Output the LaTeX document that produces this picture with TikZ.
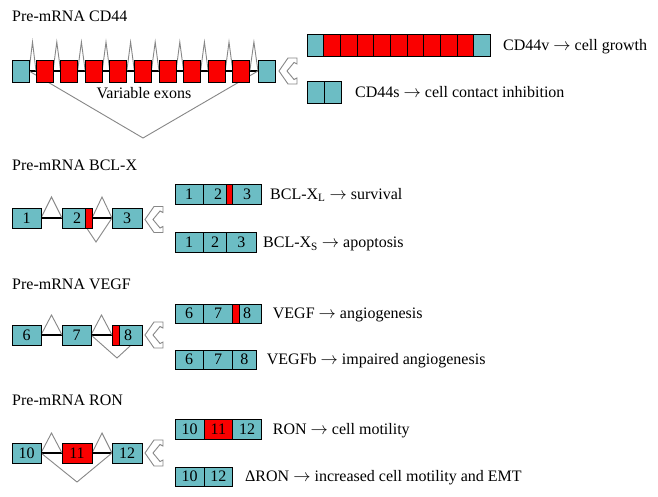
\documentclass[tikz,border=0pt]{standalone}
\usepackage{fontspec}
\setmainfont{Liberation Serif}
\usetikzlibrary{calc}
\pgfdeclarelayer{bg}
\pgfsetlayers{bg,main}
\definecolor{exteal}{RGB}{108,189,196}
\definecolor{exred}{RGB}{250,0,0}
\definecolor{spgray}{RGB}{135,135,135}
\newcommand{\fs}{\fontsize{16}{19}\selectfont}
\tikzset{
  seg/.style={draw=black, line width=0.9pt, fill=exteal, inner sep=0pt, outer sep=0pt, anchor=north west, font=\fs},
  vseg/.style={seg, fill=exred},
  intron/.style={draw=black, line width=1.1pt},
  splice/.style={draw=spgray, line width=0.9pt, line join=miter},
  lbl/.style={font=\fs, inner sep=0pt, anchor=base west},
  chevline/.style={draw=spgray, line width=0.9pt, fill=white, line join=miter},
  chev/.pic={\draw[chevline] (0,0) -- (9,-13) -- (18,-13) -- (18,-7) -- (15,-8.5) -- (8,0) -- (15,8.5) -- (18,7) -- (18,13) -- (9,13) -- cycle;}
}
\begin{document}
\begin{tikzpicture}[x=1pt,y=-1pt]
\useasboundingbox (0,0) rectangle (658,497);
% ---------------- CD44
\node[lbl] (tcd) at (12,22) {Pre-mRNA CD44};
\node[seg, minimum width=17pt, minimum height=22pt] (c0) at (12,60) {};
\foreach \i in {1,...,9} \node[vseg, minimum width=17pt, minimum height=22pt] (c\i) at ({36+(\i-1)*24.6},60) {};
\node[seg, minimum width=17pt, minimum height=22pt] (c10) at (258,60) {};
\coordinate (cV) at (143,138);
\node[font=\fs, inner sep=0pt, anchor=base] (ve) at (144,99) {Variable exons};
\pic at (279,71) {chev};
\node[seg, minimum width=16.67pt, minimum height=22pt] (v0) at (307,34) {};
\foreach \i in {1,...,9} \node[vseg, minimum width=16.67pt, minimum height=22pt] (v\i) at ({307+\i*16.67},34) {};
\node[seg, minimum width=16.67pt, minimum height=22pt] (v10) at (473.7,34) {};
\node[lbl] (tv) at (503,50.3) {CD44v $\rightarrow$ cell growth};
\node[seg, minimum width=17pt, minimum height=22pt] (s0) at (307,81) {};
\node[seg, minimum width=17pt, minimum height=22pt] (s1) at (324,81) {};
\node[lbl] (ts) at (355,97.3) {CD44s $\rightarrow$ cell contact inhibition};
% ---------------- BCL-X
\node[lbl] (tb) at (12,171) {Pre-mRNA BCL-X};
\node[seg, minimum width=29pt, minimum height=20pt] (b1) at (12,208) {1};
\node[seg, minimum width=30pt, minimum height=20pt] (b2) at (62,208) {2};
\node[vseg, minimum width=7pt, minimum height=20pt] (b2r) at (85,208) {};
\node[seg, minimum width=30pt, minimum height=20pt] (b3) at (112,208) {3};
\coordinate (bVl) at (80,218);
\coordinate (bV) at (96,242);
\pic at (145,219.5) {chev};
\node[seg, minimum width=28.3pt, minimum height=20pt] (x1) at (175,184) {1};
\node[seg, minimum width=29.4pt, minimum height=20pt] (x2) at (203.3,184) {2};
\node[vseg, minimum width=6.7pt, minimum height=20pt] (x2r) at (226,184) {};
\node[seg, minimum width=29pt, minimum height=20pt] (x3) at (232.7,184) {3};
\node[lbl] (txl) at (270,199.3) {BCL-X\textsubscript{L} $\rightarrow$ survival};
\node[seg, minimum width=28.3pt, minimum height=19.5pt] (y1) at (175,232.5) {1};
\node[seg, minimum width=23.4pt, minimum height=19.5pt] (y2) at (203.3,232.5) {2};
\node[seg, minimum width=29.3pt, minimum height=19.5pt] (y3) at (226.7,232.5) {3};
\node[lbl] (txs) at (263,247.7) {BCL-X\textsubscript{S} $\rightarrow$ apoptosis};
% ---------------- VEGF
\node[lbl] (tvg) at (12,289) {Pre-mRNA VEGF};
\node[seg, minimum width=29pt, minimum height=20pt] (e6) at (12,325) {6};
\node[seg, minimum width=29pt, minimum height=20pt] (e7) at (62,325) {7};
\node[seg, minimum width=30pt, minimum height=20pt] (e8) at (112,325) {\hspace*{2pt}8};
\node[vseg, minimum width=7pt, minimum height=20pt] (e8r) at (112,325) {};
\coordinate (eV) at (117,358);
\pic at (145,335) {chev};
\node[seg, minimum width=28.3pt, minimum height=19pt] (g6) at (175,304) {6};
\node[seg, minimum width=29.4pt, minimum height=19pt] (g7) at (203.3,304) {7};
\node[seg, minimum width=29pt, minimum height=19pt] (g8) at (232.7,304) {8};
\node[vseg, minimum width=6.3pt, minimum height=19pt] (g8r) at (232.7,304) {};
\node[lbl] (tg) at (272.7,318.8) {VEGF $\rightarrow$ angiogenesis};
\node[seg, minimum width=28.3pt, minimum height=19pt] (h6) at (175,350) {6};
\node[seg, minimum width=29.4pt, minimum height=19pt] (h7) at (203.3,350) {7};
\node[seg, minimum width=23.3pt, minimum height=19pt] (h8) at (232.7,350) {8};
\node[lbl] (th) at (266.7,364.8) {VEGFb $\rightarrow$ impaired angiogenesis};
% ---------------- RON
\node[lbl] (tr) at (12,405.5) {Pre-mRNA RON};
\node[seg, minimum width=29pt, minimum height=20pt] (r10) at (12,443) {10};
\node[vseg, minimum width=30pt, minimum height=20pt] (r11) at (62,443) {11};
\node[seg, minimum width=30pt, minimum height=20pt] (r12) at (112,443) {12};
\coordinate (rV) at (77,482);
\pic at (145,453) {chev};
\node[seg, minimum width=29pt, minimum height=20pt] (q10) at (175,419) {10};
\node[vseg, minimum width=28.7pt, minimum height=20pt] (q11) at (204,419) {11};
\node[seg, minimum width=29pt, minimum height=20pt] (q12) at (232.7,419) {12};
\node[lbl] (tq) at (272.7,434.3) {RON $\rightarrow$ cell motility};
\node[seg, minimum width=29pt, minimum height=19pt] (d10) at (175,467) {10};
\node[seg, minimum width=28.7pt, minimum height=19pt] (d12) at (204,467) {12};
\node[lbl] (td) at (245,481.8) {ΔRON $\rightarrow$ increased cell motility and EMT};
% ---------------- connectors (behind)
\begin{pgfonlayer}{bg}
\fill[white] (0,0) rectangle (658,497);
\draw[intron] (c0.east) -- (c10.west);
\foreach \i in {0,...,9} {\pgfmathtruncatemacro\j{\i+1}
  \draw[splice] (c\i.east) -- ($(c\i.east)!0.5!(c\j.west)+(0,-29)$) -- (c\j.west);}
\draw[splice] (c0.east) -- (cV) -- (c10.west);
% BCL-X
\draw[intron] (b1.east) -- (b2.west);
\draw[intron] (b2r.east) -- (b3.west);
\draw[splice] (b1.east) -- ($(b1.east)!0.5!(b2.west)+(0,-21)$) -- (b2.west);
\draw[splice] (b2r.east) -- ($(b2r.east)!0.5!(b3.west)+(0,-21)$) -- (b3.west);
\draw[splice] (bVl) -- (bV) -- (b3.west);
% VEGF
\draw[intron] (e6.east) -- (e7.west);
\draw[intron] (e7.east) -- (e8r.west);
\draw[splice] (e6.east) -- ($(e6.east)!0.5!(e7.west)+(0,-20)$) -- (e7.west);
\draw[splice] (e7.east) -- ($(e7.east)!0.5!(e8r.west)+(0,-20)$) -- (e8r.west);
\draw[splice] (e7.east) -- (eV) -- (e8.east);
% RON
\draw[intron] (r10.east) -- (r11.west);
\draw[intron] (r11.east) -- (r12.west);
\draw[splice] (r10.east) -- ($(r10.east)!0.5!(r11.west)+(0,-20)$) -- (r11.west);
\draw[splice] (r11.east) -- ($(r11.east)!0.5!(r12.west)+(0,-20)$) -- (r12.west);
\draw[splice] (r10.east) -- (rV) -- (r12.west);
\end{pgfonlayer}
\end{tikzpicture}
\end{document}
